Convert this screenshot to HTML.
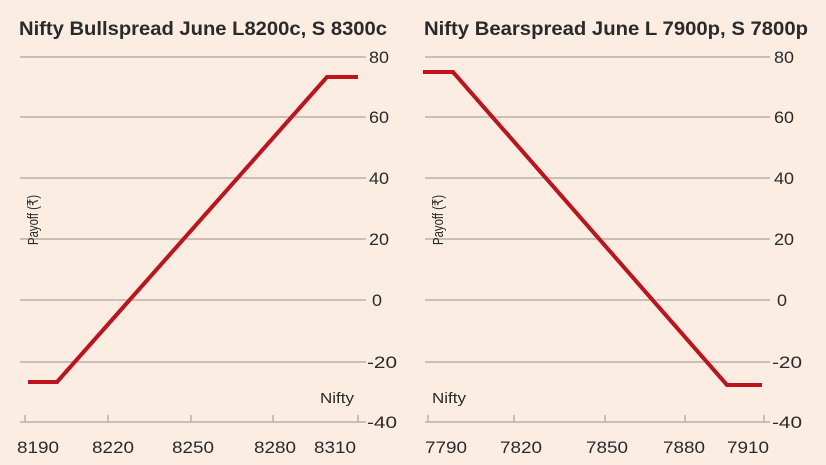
<!DOCTYPE html>
<html><head><meta charset="utf-8"><style>
html,body{margin:0;padding:0;background:#fcede2;}
svg{display:block}
text{font-family:"Liberation Sans",sans-serif;fill:#2a2a2a}
</style></head><body>
<svg width="826" height="465" viewBox="0 0 826 465" xmlns="http://www.w3.org/2000/svg">
<rect width="826" height="465" fill="#fcede2"/>
<g stroke="#b9b0a6" stroke-width="1.5">
<line x1="20" y1="57" x2="366" y2="57"/><line x1="20" y1="117" x2="366" y2="117"/>
<line x1="20" y1="178" x2="366" y2="178"/><line x1="20" y1="239" x2="366" y2="239"/>
<line x1="20" y1="300" x2="366" y2="300"/><line x1="20" y1="362" x2="366" y2="362"/>
<line x1="20" y1="422" x2="366" y2="422"/>
<line x1="425" y1="57" x2="770" y2="57"/><line x1="425" y1="117" x2="770" y2="117"/>
<line x1="425" y1="178" x2="770" y2="178"/><line x1="425" y1="239" x2="770" y2="239"/>
<line x1="425" y1="300" x2="770" y2="300"/><line x1="425" y1="362" x2="770" y2="362"/>
<line x1="425" y1="422" x2="770" y2="422"/>
<line x1="25" y1="415" x2="25" y2="422"/><line x1="108" y1="415" x2="108" y2="422"/>
<line x1="191" y1="415" x2="191" y2="422"/><line x1="273" y1="415" x2="273" y2="422"/>
<line x1="358" y1="415" x2="358" y2="422"/>
<line x1="428" y1="415" x2="428" y2="422"/><line x1="514" y1="415" x2="514" y2="422"/>
<line x1="605" y1="415" x2="605" y2="422"/><line x1="685" y1="415" x2="685" y2="422"/>
<line x1="764" y1="415" x2="764" y2="422"/>
</g>
<polyline points="28,382 57,382 327,77 358,77" fill="none" stroke="#c0121d" stroke-width="4"/>
<polyline points="423,72 453,72 727,385 762,385" fill="none" stroke="#c0121d" stroke-width="4"/>
<g font-weight="bold" font-size="19">
<text x="19" y="35" textLength="368" lengthAdjust="spacingAndGlyphs">Nifty Bullspread   June L8200c, S 8300c</text>
<text x="424" y="35" textLength="384" lengthAdjust="spacingAndGlyphs">Nifty Bearspread   June L 7900p, S 7800p</text>
</g>
<g font-size="17">
<text x="369" y="63" textLength="20" lengthAdjust="spacingAndGlyphs">80</text>
<text x="369" y="123" textLength="20" lengthAdjust="spacingAndGlyphs">60</text>
<text x="369" y="184" textLength="20" lengthAdjust="spacingAndGlyphs">40</text>
<text x="369" y="245" textLength="20" lengthAdjust="spacingAndGlyphs">20</text>
<text x="372" y="306" textLength="10" lengthAdjust="spacingAndGlyphs">0</text>
<text x="367" y="368" textLength="30" lengthAdjust="spacingAndGlyphs">-20</text>
<text x="367" y="428" textLength="30" lengthAdjust="spacingAndGlyphs">-40</text>
<text x="774" y="63" textLength="20" lengthAdjust="spacingAndGlyphs">80</text>
<text x="774" y="123" textLength="20" lengthAdjust="spacingAndGlyphs">60</text>
<text x="774" y="184" textLength="20" lengthAdjust="spacingAndGlyphs">40</text>
<text x="774" y="245" textLength="20" lengthAdjust="spacingAndGlyphs">20</text>
<text x="777" y="306" textLength="10" lengthAdjust="spacingAndGlyphs">0</text>
<text x="772" y="368" textLength="30" lengthAdjust="spacingAndGlyphs">-20</text>
<text x="772" y="428" textLength="30" lengthAdjust="spacingAndGlyphs">-40</text>
<text x="17" y="453" textLength="42" lengthAdjust="spacingAndGlyphs">8190</text>
<text x="92" y="453" textLength="42" lengthAdjust="spacingAndGlyphs">8220</text>
<text x="172" y="453" textLength="42" lengthAdjust="spacingAndGlyphs">8250</text>
<text x="254" y="453" textLength="42" lengthAdjust="spacingAndGlyphs">8280</text>
<text x="314" y="453" textLength="42" lengthAdjust="spacingAndGlyphs">8310</text>
<text x="425" y="453" textLength="42" lengthAdjust="spacingAndGlyphs">7790</text>
<text x="500" y="453" textLength="42" lengthAdjust="spacingAndGlyphs">7820</text>
<text x="586" y="453" textLength="42" lengthAdjust="spacingAndGlyphs">7850</text>
<text x="663" y="453" textLength="42" lengthAdjust="spacingAndGlyphs">7880</text>
<text x="727" y="453" textLength="42" lengthAdjust="spacingAndGlyphs">7910</text>
</g>
<g font-size="15">
<text x="320" y="403" textLength="34" lengthAdjust="spacingAndGlyphs">Nifty</text>
<text x="432" y="403" textLength="34" lengthAdjust="spacingAndGlyphs">Nifty</text>
<text transform="translate(38,245) rotate(-90)" textLength="50" lengthAdjust="spacingAndGlyphs">Payoff (₹)</text>
<text transform="translate(443,245) rotate(-90)" textLength="50" lengthAdjust="spacingAndGlyphs">Payoff (₹)</text>
</g>
</svg>
</body></html>
